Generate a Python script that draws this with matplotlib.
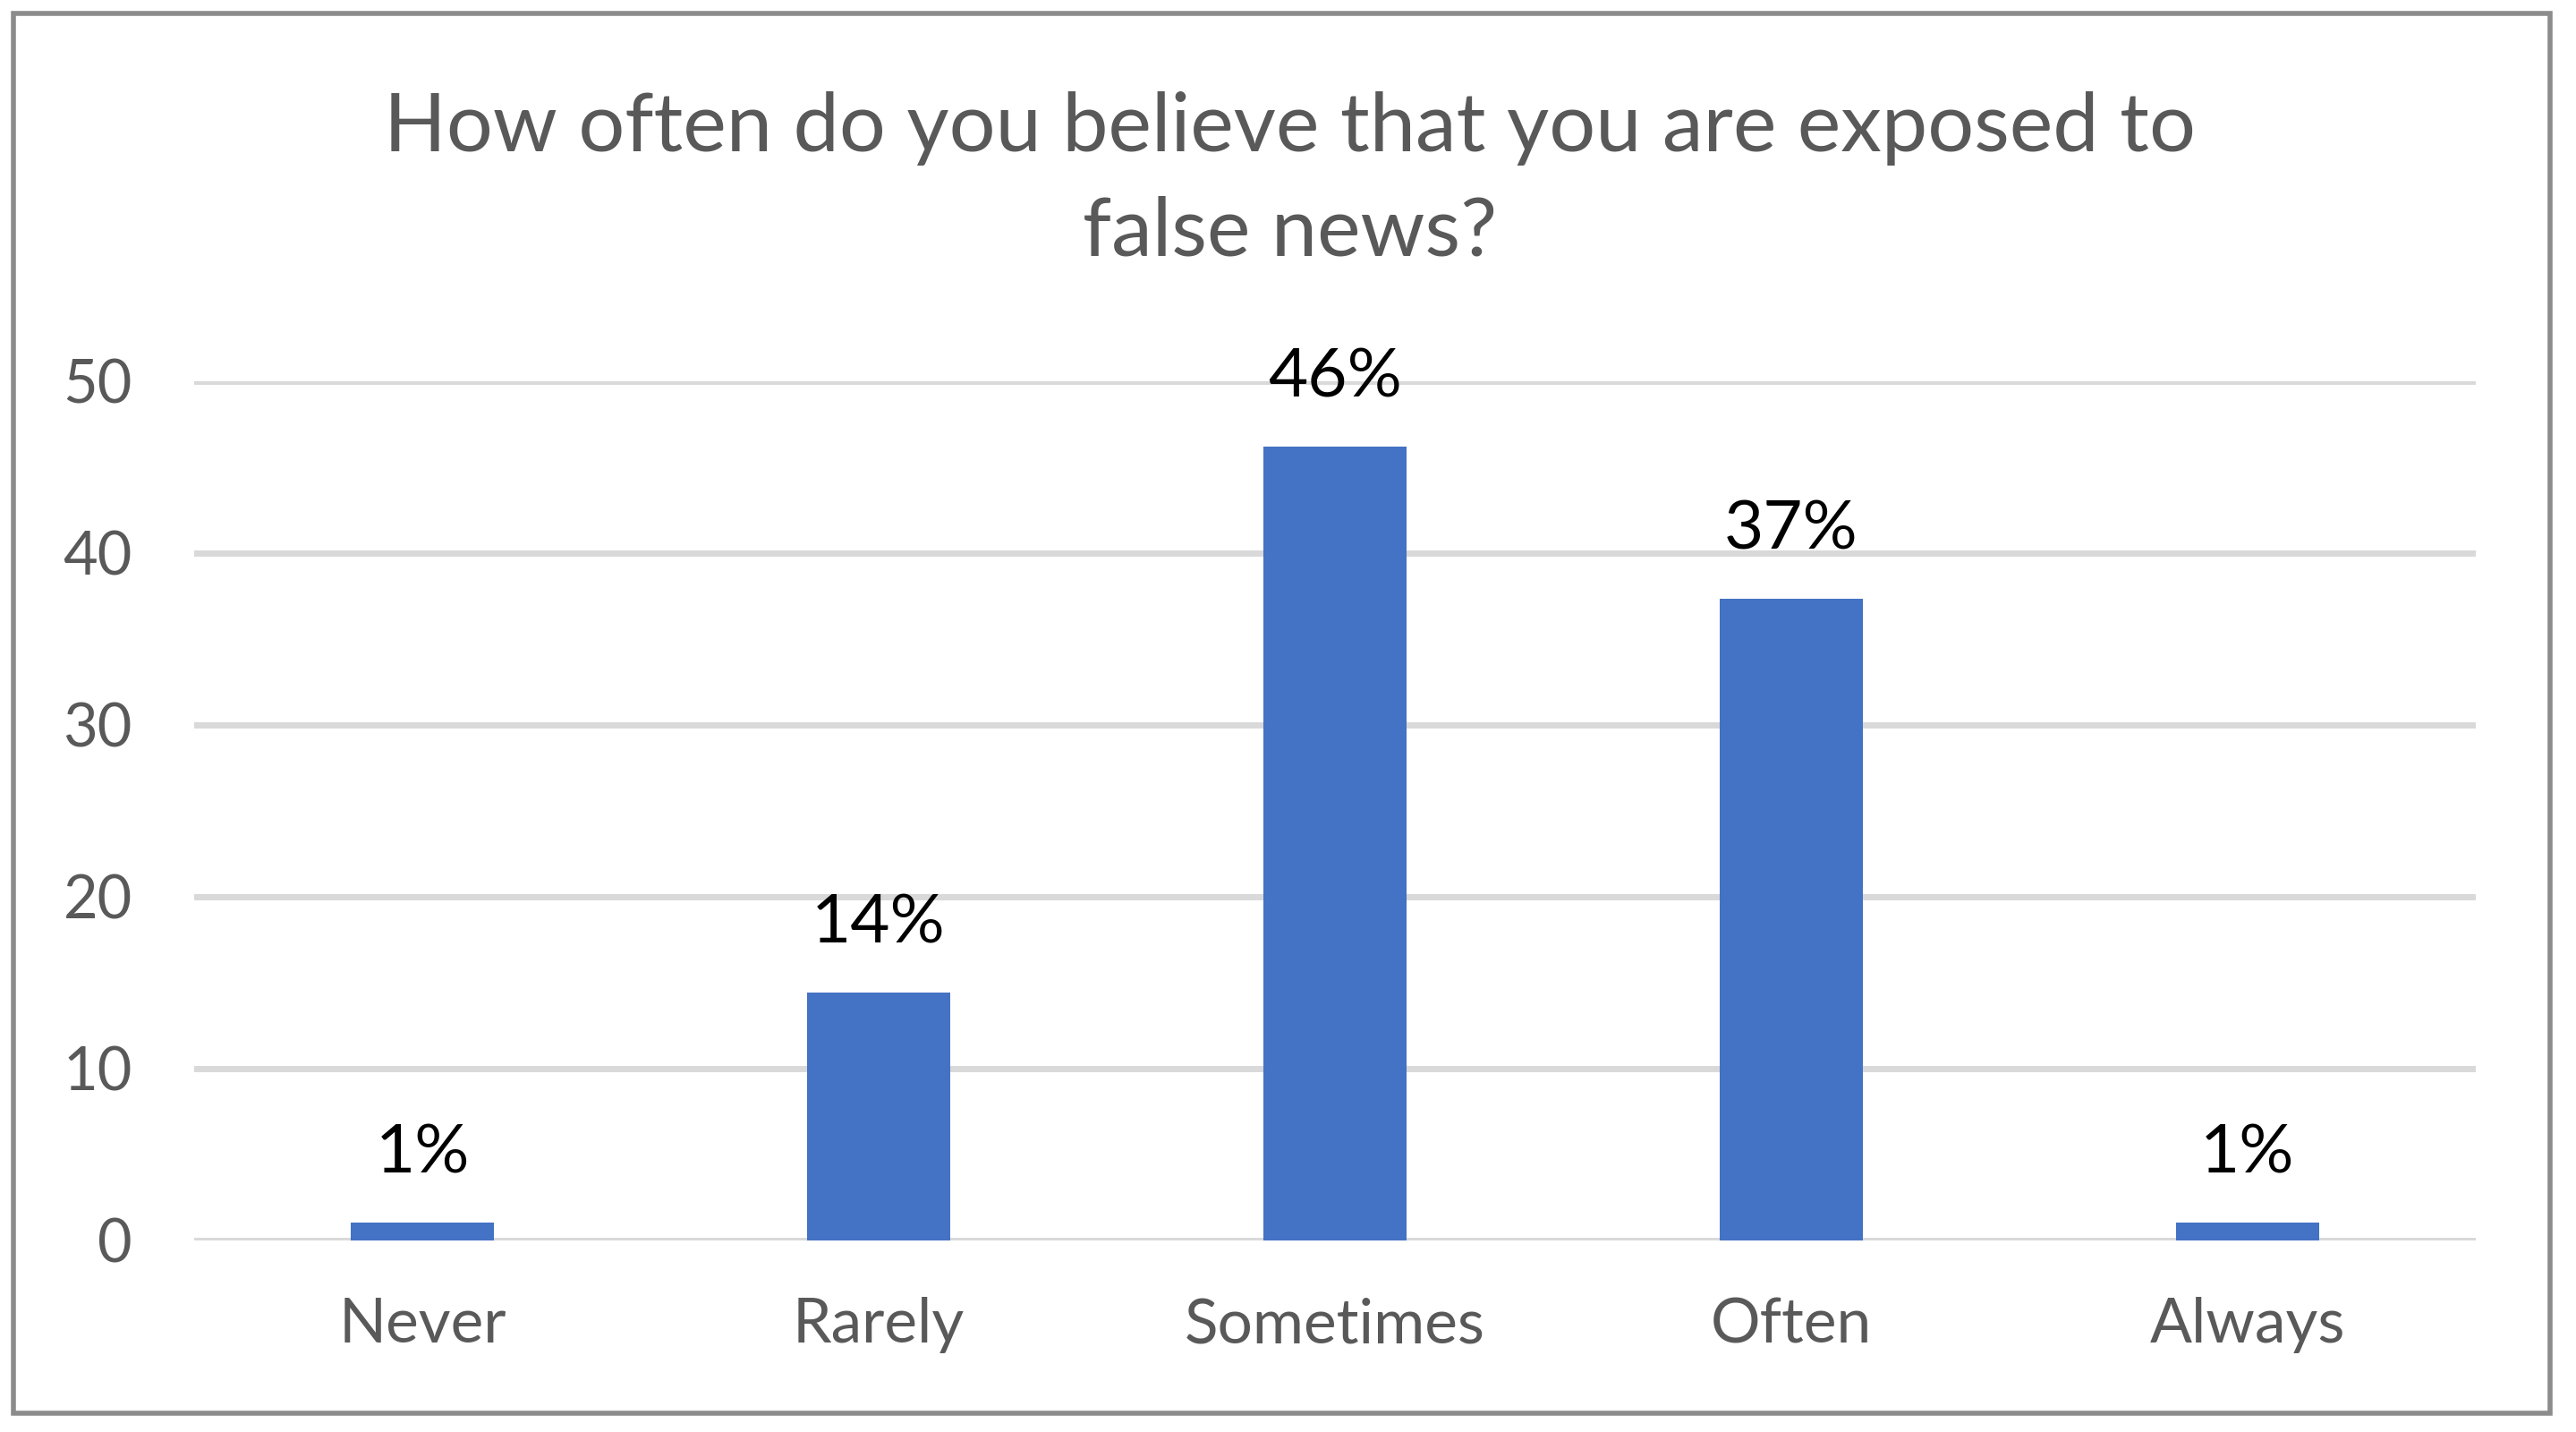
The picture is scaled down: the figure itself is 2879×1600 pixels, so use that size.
import matplotlib
matplotlib.use('Agg')
import matplotlib.pyplot as plt
from matplotlib.patches import Rectangle

# data
categories = ['Never', 'Rarely', 'Sometimes', 'Often', 'Always']
shares = [1.0, 14.4, 46.2, 37.3, 1.0]
bar_labels = ['1%', '14%', '46%', '37%', '1%']
yticks = [0, 10, 20, 30, 40, 50]
title = 'How often do you believe that you are exposed to\nfalse news?'

plt.rcParams['font.family'] = ['Lato', 'DejaVu Sans']
grey_txt = '#595959'

fig = plt.figure(figsize=(28.79, 16), dpi=100)
ax = fig.add_axes([0.0754, 0.134, 0.8856, 0.600])

x = list(range(len(categories)))
ax.bar(x, shares, width=0.313, color='#4472c4', zorder=3)

for xi, v, lab in zip(x, shares, bar_labels):
    ax.annotate(lab, (xi, v), xytext=(0, 40), textcoords='offset points',
                ha='center', va='baseline', fontsize=55, color='black',
                annotation_clip=False)

ax.set_xlim(-0.5, len(categories) - 0.5)
ax.set_ylim(0, 50)
ax.set_yticks(yticks)
ax.set_xticks(x)
ax.set_xticklabels(categories)
ax.tick_params(axis='both', length=0, labelsize=48, labelcolor=grey_txt)
ax.tick_params(axis='x', labelsize=50, pad=46)
ax.tick_params(axis='y', pad=50)
ax.yaxis.grid(True, color='#d9d9d9', linewidth=5, zorder=0)
ax.set_axisbelow(True)
for s in ax.spines.values():
    s.set_visible(False)

fig.text(0.5006, 0.874, title, ha='center', va='center', fontsize=66,
         color=grey_txt, linespacing=1.5)

# outer chart border
fig.patches.append(Rectangle((15 / 2879, 21 / 1600), 2835 / 2879, 1564 / 1600,
                             transform=fig.transFigure, fill=False,
                             edgecolor='#8c8c8c', linewidth=4))

fig.savefig('out.png', dpi=100)
